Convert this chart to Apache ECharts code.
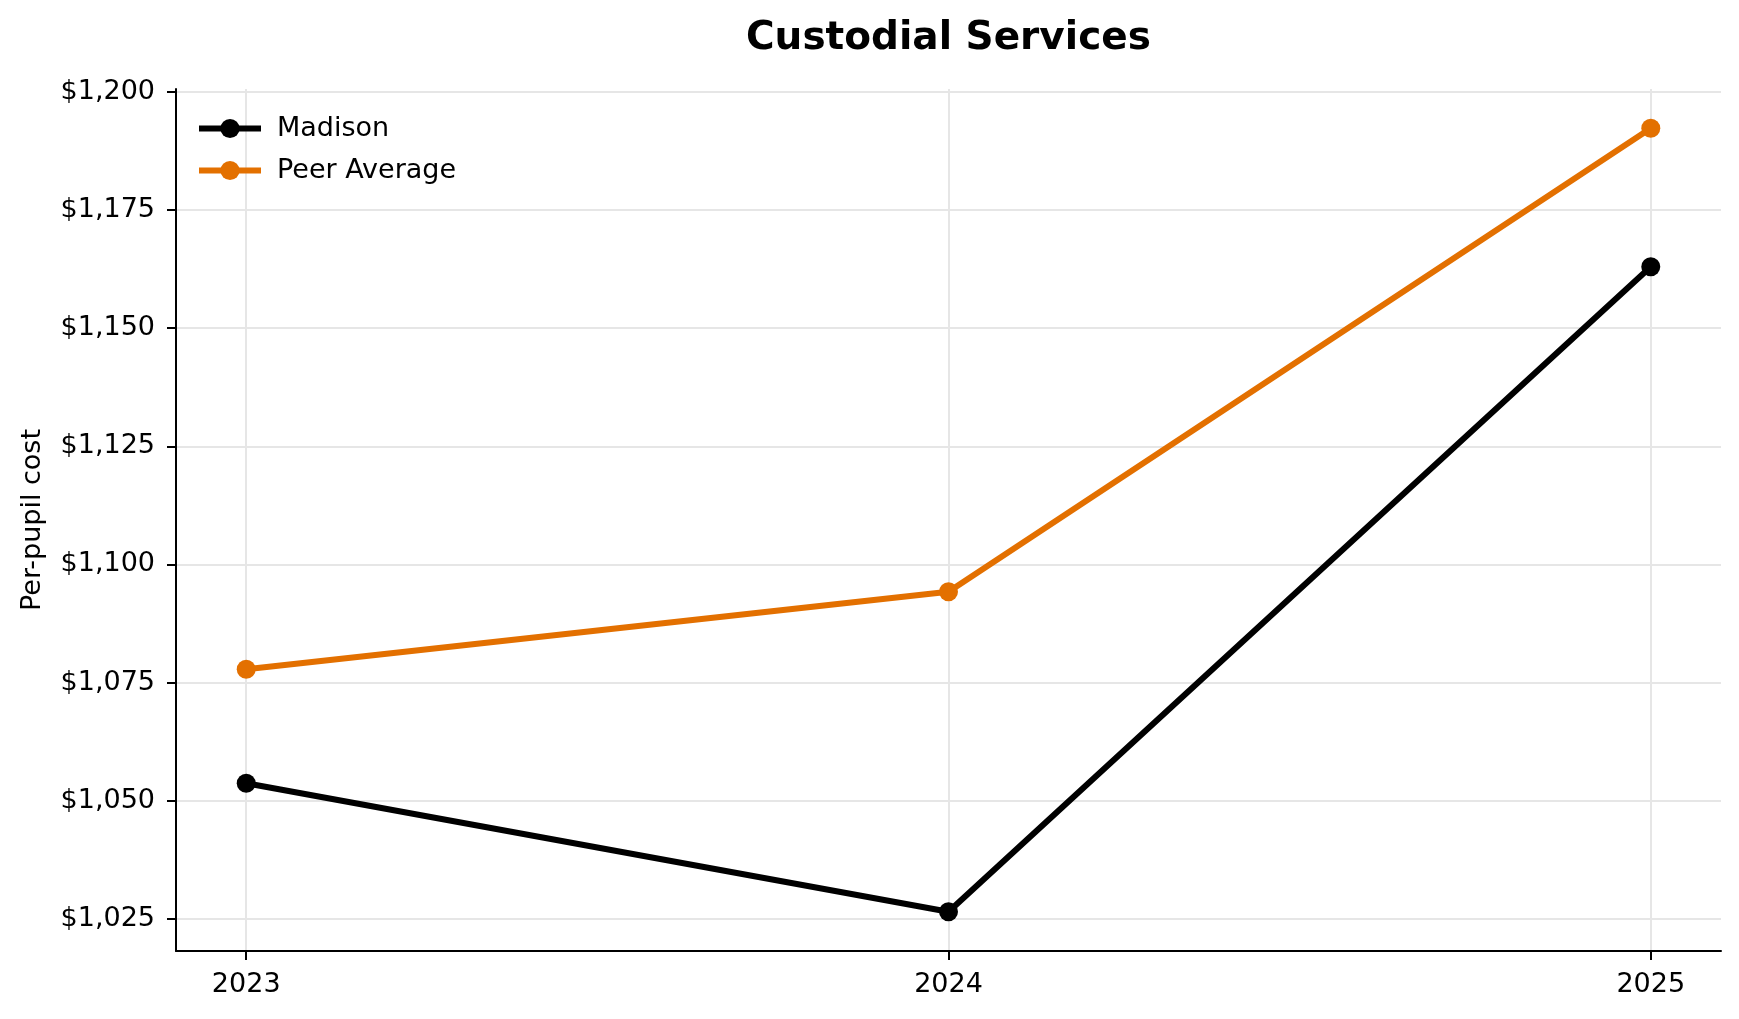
<!DOCTYPE html>
<html>
<head>
<meta charset="utf-8">
<title>Custodial Services</title>
<script src="https://cdn.jsdelivr.net/npm/echarts@6/dist/echarts.min.js"></script>
<style>
  html, body { margin: 0; padding: 0; background: #fff; }
  #chart { width: 1739px; height: 1019px; }
</style>
</head>
<body>
<div id="chart"></div>
<script>
// data
const years = [2023, 2024, 2025]
const madison = [1053.7, 1026.5, 1163.0]
const peerAverage = [1077.8, 1094.2, 1192.3]
const yTicks = [1025, 1050, 1075, 1100, 1125, 1150, 1175, 1200]

const font = 'DejaVu Sans'
const black = '#000000'
const orange = '#e37000'
const gridColor = '#e6e6e6'

const chart = echarts.init(document.getElementById('chart'), null, { renderer: 'canvas' })

// pair up year + value for the value x axis
const toPairs = vals => years.map((y, i) => [y, vals[i]])

const option = {
  backgroundColor: '#ffffff',
  animation: false,
  textStyle: { fontFamily: font },
  title: {
    text: 'Custodial Services',
    // centred over the plot area, not the page
    left: 741,
    top: 14,
    textStyle: { fontFamily: font, fontSize: 39, fontWeight: 'bold', color: black }
  },
  legend: {
    orient: 'vertical',
    left: 191,
    top: 110,
    itemWidth: 62,
    itemHeight: 24,
    itemGap: 15,
    lineStyle: { width: 6 },
    textStyle: { fontFamily: font, fontSize: 27, color: black, padding: [0, 0, 0, 11] },
    data: ['Madison', 'Peer Average']
  },
  grid: {
    left: 176,
    right: 18,
    top: 89,
    bottom: 68,
    containLabel: false
  },
  xAxis: {
    type: 'value',
    min: 2022.9,
    max: 2025.1,
    axisLine: { show: true, onZero: false, lineStyle: { color: black, width: 2 } },
    axisTick: { show: true, length: 9, lineStyle: { color: black, width: 2 }, customValues: years },
    axisLabel: {
      fontFamily: font, fontSize: 27, color: black, margin: 20,
      customValues: years,
      formatter: v => String(v)
    },
    splitLine: { show: true, lineStyle: { color: gridColor, width: 2 } }
  },
  yAxis: {
    type: 'value',
    min: 1018.2,
    max: 1200.6,
    name: 'Per-pupil cost',
    nameLocation: 'middle',
    nameGap: 130,
    nameTextStyle: { fontFamily: font, fontSize: 27, color: black },
    axisLine: { show: true, onZero: false, lineStyle: { color: black, width: 2 } },
    axisTick: { show: true, length: 9, lineStyle: { color: black, width: 2 }, customValues: yTicks },
    axisLabel: {
      fontFamily: font, fontSize: 27, color: black, margin: 21,
      customValues: yTicks,
      formatter: v => '$' + Number(v).toLocaleString('en-US')
    },
    splitLine: { show: true, lineStyle: { color: gridColor, width: 2 } }
  },
  series: [
    {
      name: 'Madison',
      type: 'line',
      data: toPairs(madison),
      symbol: 'circle',
      symbolSize: 19,
      lineStyle: { color: black, width: 6 },
      itemStyle: { color: black },
      z: 3
    },
    {
      name: 'Peer Average',
      type: 'line',
      data: toPairs(peerAverage),
      symbol: 'circle',
      symbolSize: 19,
      lineStyle: { color: orange, width: 6 },
      itemStyle: { color: orange },
      z: 2
    }
  ]
}

chart.setOption(option)
</script>
</body>
</html>
